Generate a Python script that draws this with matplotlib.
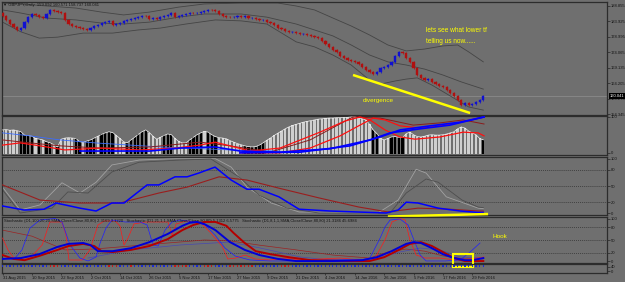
import matplotlib
matplotlib.use("Agg")
import matplotlib.pyplot as plt
import matplotlib.transforms as mtransforms
from matplotlib.patches import Rectangle
import numpy as np

plt.rcParams['font.family'] = ['Liberation Sans', 'DejaVu Sans']

# ---------------- data ----------------
title_text = "\u25BC GBPJPY,Daily  159.092 160.571 158.737 160.041"
closes = [185.66, 184.38, 183.10, 182.15, 181.19, 181.83, 183.74, 185.34, 186.30, 185.98,
          185.34, 185.02, 186.30, 187.58, 187.26, 186.94, 186.62, 184.38, 183.10, 182.47,
          182.15, 181.83, 181.51, 181.19, 181.83, 182.47, 182.78, 183.42, 183.74, 184.06,
          182.78, 183.10, 183.42, 184.06, 184.38, 184.70, 185.02, 185.34, 185.66, 185.60,
          184.70, 185.02, 184.70, 185.34, 185.66, 185.98, 186.62, 185.34, 185.66, 185.98,
          186.30, 186.62, 186.55, 186.70, 186.94, 187.26, 187.58, 187.50, 187.26, 186.30,
          185.66, 185.34, 185.30, 185.40, 185.66, 185.34, 185.66, 185.02, 185.10, 184.70,
          184.38, 184.45, 183.74, 183.42, 182.78, 181.83, 181.51, 180.87, 180.55, 180.60,
          180.23, 179.91, 179.95, 179.59, 179.27, 178.95, 178.63, 177.67, 176.71, 175.75,
          174.80, 174.16, 172.88, 172.24, 171.60, 171.28, 170.96, 170.32, 169.36, 168.41,
          167.77, 167.13, 167.77, 169.04, 169.36, 170.00, 170.96, 172.88, 174.16, 173.84,
          172.24, 170.96, 169.04, 166.81, 165.85, 165.21, 165.53, 164.57, 163.93, 163.29,
          162.97, 162.01, 161.06, 160.10, 158.82, 157.22, 157.86, 157.22, 157.54, 158.18,
          158.82, 160.04]
opens = [186.62] + closes[:-1]

bb_upper_bars = [0, 5, 12, 20, 27, 33, 40, 48, 55, 65, 75, 80, 85, 90, 95, 100, 105, 110, 115, 120, 124, 127, 131]
bb_upper = [189.8, 189.5, 188.86, 188.2, 186.9, 186.0, 186.9, 188.5, 189.5, 189.8, 189.8, 188.86, 187.6,
            185.02, 182.47, 179.6, 176.4, 174.5, 175.1, 176.1, 176.4, 174.2, 171.0]
bb_mid_bars = [0, 5, 12, 20, 27, 33, 40, 48, 55, 65, 72, 80, 85, 90, 95, 100, 105, 110, 115, 120, 125, 131]
bb_mid = [187.6, 186.6, 185.0, 184.4, 183.4, 183.1, 183.7, 185.3, 186.3, 186.3, 185.3, 183.1, 181.2,
          179.3, 176.4, 173.2, 171.0, 170.0, 168.7, 166.8, 164.6, 162.3]
bb_lower_bars = [0, 5, 10, 15, 22, 30, 37, 43, 50, 58, 65, 72, 80, 85, 90, 95, 100, 103, 107, 110, 113, 117, 122, 127, 131]
bb_lower = [183.7, 180.6, 178.6, 178.9, 180.2, 180.2, 181.2, 181.8, 183.1, 184.4, 184.1, 183.1, 177.4,
            175.8, 173.2, 170.0, 165.2, 163.9, 164.9, 165.5, 165.9, 163.6, 160.1, 156.6, 155.6]

price_ticks = [188.855, 183.925, 178.995, 174.065, 169.135, 164.205, 159.275, 154.345]
last_price = 160.041

hist_vals = [65, 66, 64, 65, 63, 60, 51, 50, 48, 42, 40, 38, 33, 30, 25, 19, 40, 43, 44, 43,
             42, 33, 32, 35, 38, 43, 48, 53, 57, 60, 58, 50, 42, 33, 30, 38, 45, 53, 60, 65,
             58, 48, 40, 45, 50, 54, 52, 42, 34, 30, 30, 38, 45, 52, 57, 61, 59, 52, 47, 44,
             43, 41, 36, 32, 28, 25, 22, 20, 19, 20, 24, 30, 37, 43, 50, 56, 62, 68, 73, 77,
             80, 83, 86, 88, 90, 92, 94, 95, 96, 97, 97, 98, 98, 99, 99, 100, 100, 98, 95, 92,
             80, 65, 55, 42, 38, 42, 46, 47, 45, 44, 55, 59, 52, 47, 46, 48, 51, 52, 51, 51,
             52, 54, 57, 60, 68, 73, 70, 62, 57, 52, 42, 38]
hist_black = [5, 6, 7, 8, 10, 12, 13, 15, 20, 21, 23, 24, 25, 27, 28, 29, 30, 34, 35, 36, 37, 38, 39,
              44, 45, 46, 51, 52, 53, 54, 56, 57, 58, 66, 67, 68, 69, 70, 71, 101, 102, 106, 107,
              108, 109, 131]

lblue2_bars = [0, 7.5, 15.7, 25.2, 42.9, 62, 75.6]
lblue2_vals = [57, 49, 38, 30, 19, 11, 8]
red2a_bars = [0, 4.8, 10.2, 17, 26.6, 37.5, 47, 53.8, 57.9, 62, 67.4, 75.6, 86.5, 93.3, 97.4, 100.1,
              104.2, 108.3, 112.4, 119.2, 125.5, 129.6, 131.2]
red2a_vals = [24, 30, 22, 11, 16, 11, 16, 24, 32, 22, 8, 16, 59, 89, 100, 92, 65, 46, 40, 46, 59, 57, 49]
red2b_bars = [64.7, 75.6, 83.8, 92, 97.4, 101, 104.2, 108.3, 113.8, 120.6, 126, 131.2]
red2b_vals = [3, 3, 16, 49, 78, 97, 92, 76, 70, 78, 89, 100]
dred2_bars = [0, 7.5, 15.7, 26.6, 40.2, 53.8, 62, 72.9, 83.8, 95.5, 102.9, 111.9, 119.2, 125.5, 131.2]
dred2_vals = [38, 30, 22, 16, 19, 32, 22, 5, 38, 100, 97, 78, 84, 92, 81]
blue2a_bars = [21.1, 40.2, 48.4, 57.9, 64.7, 75.6, 89.2, 100.1, 105.6, 113.8, 121.9, 131.2]
blue2a_vals = [8, 8, 16, 19, 8, 5, 14, 38, 57, 68, 78, 100]
blue2b_bars = [64.7, 81.1, 94.7, 102.9, 108.3, 116.5, 124.7, 131.2]
blue2b_vals = [3, 5, 22, 46, 65, 76, 86, 100]

blue3_bars = [0, 5.9, 11.3, 14.6, 21.1, 25.5, 29.8, 33.1, 39.4, 42.6, 47, 50.3, 53.5, 57.9, 62.3, 66.6,
              69.9, 75.3, 80.8, 89.2, 104.5, 107.8, 110, 113.2, 118.7, 124.7, 129.6, 131]
blue3_vals = [13, 5.5, 7, 18.5, 9, 3.7, 18.5, 18.5, 52, 52, 67, 67, 74, 85, 61, 44, 44, 30, 7, 3.7, 0,
              5.5, 20, 18.5, 9, 3.7, 1, 1]
dred3_bars = [0, 10.2, 21.1, 32, 42.6, 50.3, 59, 66.6, 75.3, 86.2, 97.1, 105, 113.2, 122, 129.6, 131]
dred3_vals = [52, 24, 18.5, 18.5, 37, 48, 67, 61, 46, 28, 11, 2, 9, 7, 3.7, 3.5]
grayA_bars = [0, 4.8, 10.2, 16.2, 21.1, 25.5, 29.8, 37.2, 48.1, 57.9, 62.3, 66.6, 73.2, 80.8, 102.3,
              107.8, 112.7, 115.4, 120.9, 129.6, 131]
grayA_vals = [48, 5.5, 15, 56, 37, 57, 89, 98, 101, 101, 85, 48, 18.5, 1.9, 0, 24, 81, 74, 30, 9, 8]
grayB_bars = [0, 4.8, 13.5, 17.8, 23.3, 29.8, 37.2, 48.1, 56.8, 64.4, 69.9, 77.5, 86.2, 105.6, 110,
              115.4, 118.7, 125.2, 129.6, 131]
grayB_vals = [43, 0, 9, 39, 37, 76, 94, 98, 100, 67, 33, 9, 0, 0, 37, 63, 57, 24, 11, 10]

stoch_header = ("Stochastic (D1,100,20,20,SMA,Close/Close,80,80) 2.3169 3.1220   "
                "Stochastic (D1,21,1,1,SMA,Close/Close,80,80) 5.1312 6.5775   "
                "Stochastic (D1,8,1,1,SMA,Close/Close,80,80) 21.3186 45.6984")
tblue4_bars = [0, 5, 10, 15, 18, 22, 24, 26, 30, 35, 40, 45, 49, 51, 53, 55, 58, 62, 66, 70, 75, 80,
               90, 98, 102, 106, 110, 112, 114, 117, 120, 123, 126, 128, 131]
tblue4_vals = [6, 8, 17, 34, 41, 43, 38, 24, 24, 31, 45, 64, 83, 90, 92, 87, 73, 45, 27, 15, 6, 1, 1,
               3, 10, 24, 41, 45, 43, 31, 17, 8, 3, 3, 8]
tred4_bars = [0, 3, 6, 10, 15, 18, 22, 25, 27, 30, 35, 40, 45, 49, 52, 55, 58, 61, 63, 66, 69, 73, 78,
              84, 95, 100, 104, 108, 111, 114, 117, 120, 123, 126, 131]
tred4_vals = [15, 6, 3, 13, 27, 36, 41, 36, 24, 22, 27, 36, 52, 73, 85, 92, 92, 83, 66, 43, 24, 17, 10,
              3, 1, 1, 10, 27, 41, 45, 36, 22, 8, 1, 1]
red4_bars = [0, 1.5, 3.1, 7.5, 10.8, 12.9, 16.2, 17.3, 18.1, 21.7, 23.8, 26, 27.7, 30.7, 32, 33.1, 34.2,
             35.8, 38.8, 42.9, 45.1, 46.2, 47.3, 50, 53.8, 56.5, 59.8, 61.4, 63.6, 66.1, 68.8, 72.9, 77,
             81.1, 86.5, 92, 97.4, 101.5, 104.2, 106.1, 108.3, 109.7, 111, 112.7, 115.1, 119.2, 123.3,
             127.4, 131.2]
red4_vals = [54.7, 26.7, 8.1, 8.1, 38.4, 91.9, 91.9, 61.6, 3.5, 3.5, 26.7, 84.9, 94.2, 94.2, 82.6, 38.4,
             54.7, 87.2, 91.9, 91.9, 91.9, 61.6, 87.2, 94.2, 91.9, 68.6, 36, 5.8, 8.1, 15.1, 5.8, 3.5,
             8.1, 3.5, 5.8, 8.1, 3.5, 8.1, 50, 91.9, 100, 96.5, 50, 15.1, 8.1, 8.1, 3.5, 5.8, 10.5]
blue4_bars = [0, 3.4, 5.3, 7.5, 10.2, 14.3, 16.2, 18.4, 21.1, 23.3, 25.5, 26.6, 28.2, 29.8, 33.4, 37.5,
              39.4, 41, 42.4, 44.3, 46.2, 48.4, 52.5, 55.2, 57.9, 60.6, 63.4, 67.4, 72.9, 81.1, 89.2,
              97.4, 100.1, 102.9, 104.2, 105.6, 108.3, 110.5, 112.1, 113.8, 115.4, 120.6, 124.7,
              127.4, 130.1]
blue4_vals = [5.8, 8.1, 26.7, 77.9, 96.5, 100, 91.9, 38.4, 8.1, 1.2, 10.5, 43, 77.9, 96.5, 91.9, 91.9,
              84.9, 38.4, 36, 73.3, 91.9, 96.5, 91.9, 84.9, 61.6, 31.4, 12.8, 3.5, 1.2, 1.2, 3.5, 3.5,
              8.1, 54.7, 80.2, 96.5, 98.8, 84.9, 50, 15.1, 1.2, 1.2, 3.5, 22.1, 43]
slate4_bars = [23.3, 34.7, 48.4, 62, 70.2, 81.1, 89.2, 100.1, 108.3, 113.8, 119.2, 124.7, 130.1]
slate4_vals = [8.1, 26.7, 38.4, 45.3, 31.4, 10.5, 3.5, 3.5, 22.1, 31.4, 26.7, 10.5, 8.1]
dred4_bars = [0, 8, 17, 25, 35, 45, 55, 62, 70, 80, 90, 100, 105, 110, 115, 120, 126, 131]
dred4_vals = [73, 59, 27, 29, 36, 43, 50, 48, 38, 27, 15, 8, 22, 29, 24, 13, 6, 6]

dot_red = [13, 14, 15, 29, 30, 31, 35, 47, 48, 49, 50, 55, 56, 57, 62, 63, 64, 65, 66, 67, 68, 76, 77, 78]

date_bars = [0, 8, 16, 24, 32, 40, 48, 56, 64, 72, 80, 88, 96, 104, 112, 120, 128]
date_labels = ["31 Aug 2015", "10 Sep 2015", "22 Sep 2015", "2 Oct 2015", "14 Oct 2015",
               "26 Oct 2015", "5 Nov 2015", "17 Nov 2015", "27 Nov 2015", "9 Dec 2015",
               "21 Dec 2015", "4 Jan 2016", "14 Jan 2016", "26 Jan 2016", "5 Feb 2016",
               "17 Feb 2016", "29 Feb 2016"]

# user drawn annotations (bar, value)
divergence_bars = [95.5, 127.4]
divergence_prices = [166.81, 154.67]
stoch_trend_bars = [105.0, 132.3]
stoch_trend_vals = [-6.5, -1.9]
hook_box = (122.7, -12.8, 5.5, 30.2)

# ---------------- style ----------------
BG = '#6f6f6f'
SP = '#2c2c2c'
TXT = '#141414'
YEL = '#ffff00'
FS = 3.0
W, H = 625, 282
XL = (-0.14, 164.7)

fig = plt.figure(figsize=(6.25, 2.82), dpi=100, facecolor=BG)


def rect(top, bottom, left=2, right=607):
    return [left / W, 1 - bottom / H, (right - left) / W, (bottom - top) / H]


def mk(top, bottom, ylim):
    ax = fig.add_axes(rect(top, bottom))
    ax.set_facecolor('none')
    ax.set_xlim(*XL)
    ax.set_ylim(*ylim)
    for s in ax.spines.values():
        s.set_color(SP)
        s.set_linewidth(0.9)
    ax.yaxis.tick_right()
    ax.tick_params(axis='y', length=2, width=0.4, colors=TXT, labelsize=FS, pad=1)
    ax.tick_params(axis='x', bottom=False, labelbottom=False)
    return ax


x = np.arange(len(closes))
o = np.array(opens)
c = np.array(closes)
up = c >= o
cols = np.where(up, '#1010d0', '#b01010')

# main panel
ax1 = mk(2, 115, (154.03, 190.13))
ax1.axhline(last_price, color='#8f8f8f', lw=0.5, zorder=1)
ax1.plot(bb_upper_bars, bb_upper, color='#454545', lw=0.6, zorder=2)
ax1.plot(bb_mid_bars, bb_mid, color='#454545', lw=0.6, zorder=2)
ax1.plot(bb_lower_bars, bb_lower, color='#454545', lw=0.6, zorder=2)
lo = np.minimum(o, c)
hi = np.maximum(o, c)
ax1.vlines(x, lo - 0.35, hi + 0.35, colors=cols, lw=0.5, zorder=3)
ax1.bar(x, hi - lo, bottom=lo, width=0.6, color=cols, edgecolor=cols, linewidth=0.3, zorder=4)
ax1.set_yticks(price_ticks)
ax1.set_yticklabels([f'{t:.3f}' for t in price_ticks])
ax1.text(0.002, 0.972, title_text, transform=ax1.transAxes, fontsize=FS, color=TXT,
         ha='left', va='center')
tr = mtransforms.blended_transform_factory(ax1.transAxes, ax1.transData)
ax1.text(1.004, last_price, '160.041', transform=tr, fontsize=FS, color='white', ha='left',
         va='center', bbox=dict(fc='black', ec='none', pad=0.5), zorder=10, clip_on=False)
ax1.plot(divergence_bars, divergence_prices, color=YEL, lw=1.8, solid_capstyle='butt', zorder=6,
         clip_on=False)
ax1.text(98.2, 158.82, 'divergence', color=YEL, fontsize=4.6, ha='left', va='center')
ax1.text(115.4, 180.87, 'lets see what lower tf', color=YEL, fontsize=4.7, ha='left', va='center')
ax1.text(115.4, 177.67, 'telling us now......', color=YEL, fontsize=4.7, ha='left', va='center')

# panel 2
ax2 = mk(116, 155, (-2.7, 102.6))
hcols = ['#000000' if i in hist_black else '#cfcfcf' for i in range(len(hist_vals))]
ax2.bar(x, hist_vals, width=0.62, color=hcols, linewidth=0, zorder=2)
ax2.plot(x, hist_vals, color='#f4f4f4', lw=0.5, zorder=3)
ax2.plot(lblue2_bars, lblue2_vals, color='#3a6cff', lw=0.6, zorder=4)
ax2.plot(dred2_bars, dred2_vals, color='#8a1c1c', lw=0.7, zorder=4)
ax2.plot(red2a_bars, red2a_vals, color='#ff1010', lw=0.9, zorder=5)
ax2.plot(red2b_bars, red2b_vals, color='#ff1010', lw=0.9, zorder=5)
ax2.plot(blue2a_bars, blue2a_vals, color='#0000ff', lw=1.2, zorder=6)
ax2.plot(blue2b_bars, blue2b_vals, color='#0000ff', lw=1.2, zorder=6)
ax2.set_yticks([100, 3])
ax2.set_yticklabels(['100', '0'])

# panel 3
ax3 = mk(157, 215, (-3.7, 103.7))
for lv in (80, 50, 20):
    ax3.axhline(lv, color='#262626', lw=0.5, ls=(0, (1.2, 1.6)), zorder=1)
ax3.plot(grayA_bars, grayA_vals, color='#a2a2a2', lw=0.6, zorder=2)
ax3.plot(grayB_bars, grayB_vals, color='#4e4e4e', lw=0.6, zorder=2)
ax3.plot(dred3_bars, dred3_vals, color='#9a1e1e', lw=0.8, zorder=3)
ax3.plot(blue3_bars, blue3_vals, color='#0000ff', lw=1.1, zorder=4)
ax3.set_yticks([100, 80, 50, 20, 0])
ax3.set_yticklabels(['100', '80', '50', '20', '0'])
ax3.plot(stoch_trend_bars, stoch_trend_vals, color=YEL, lw=1.8, solid_capstyle='butt', zorder=8,
         clip_on=False)

# panel 4
ax4 = mk(217, 263, (-3.5, 103.5))
for lv in (80, 50, 20):
    ax4.axhline(lv, color='#262626', lw=0.5, ls=(0, (1.2, 1.6)), zorder=1)
ax4.plot(dred4_bars, dred4_vals, color='#9a2424', lw=0.5, zorder=2)
ax4.plot(slate4_bars, slate4_vals, color='#4848b0', lw=0.5, zorder=2)
ax4.plot(red4_bars, red4_vals, color='#ff1a1a', lw=0.5, zorder=3)
ax4.plot(blue4_bars, blue4_vals, color='#2020ff', lw=0.5, zorder=3)
ax4.plot(tred4_bars, tred4_vals, color='#b40000', lw=1.4, zorder=4)
ax4.plot(tblue4_bars, tblue4_vals, color='#0000d8', lw=1.4, zorder=5)
ax4.set_yticks([100, 80, 50, 20, 0])
ax4.set_yticklabels(['100', '80', '50', '20', '0'])
ax4.text(0.003, 0.915, stoch_header, transform=ax4.transAxes, fontsize=FS, color=TXT,
         ha='left', va='center')
ax4.add_patch(Rectangle(hook_box[:2], hook_box[2], hook_box[3], fill=False, ec=YEL, lw=1.5,
                        zorder=9, clip_on=False))
ax4.text(133.4, 59, 'Hook', color=YEL, fontsize=4.6, ha='left', va='center')

# panel 5
ax5 = mk(264, 273, (0, 1))
dcols = ['#c01818' if i in dot_red else '#1a2ad0' for i in range(len(closes))]
ax5.scatter(x, [0.78] * len(x), s=0.9, marker='s', c=dcols, linewidths=0, zorder=3)
ax5.set_yticks([0.67, 0.22])
ax5.set_yticklabels(['40', '0'])
ax5.set_xticks(date_bars)
ax5.set_xticklabels(date_labels, ha='left')
ax5.tick_params(axis='x', bottom=True, labelbottom=True, length=1.5, width=0.4, colors=TXT,
                labelsize=FS, pad=0.8)

fig.savefig('out.png', dpi=100, facecolor=BG)
